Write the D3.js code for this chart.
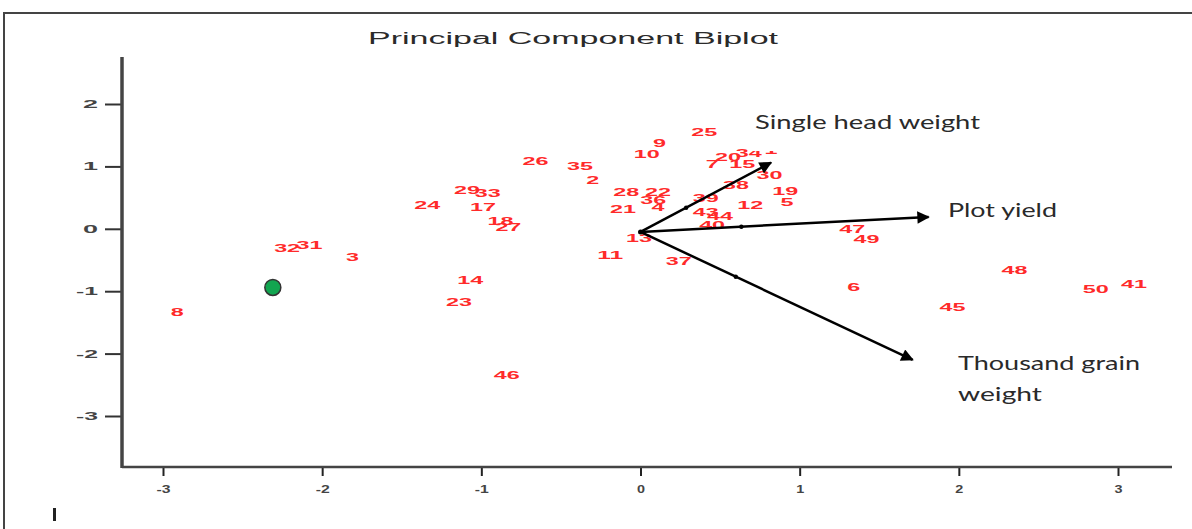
<!DOCTYPE html>
<html><head><meta charset="utf-8">
<script src="https://cdn.jsdelivr.net/npm/d3@7"></script>
<style>html,body{margin:0;padding:0;background:#fff;}svg{display:block;}</style>
</head><body>
<svg id="c" width="1192" height="529"></svg>
<script>
// ---- data ----
const obsLabels = ["25","9","10","26","35","2","7","20","34","1","15","30","38","19","5","12","39","28","22","36","21","4","43","44","40","13","11","37","29","33","24","17","18","27","14","23","46","32","31","3","8","47","49","48","6","50","41","45","42"];
const pc1 = [0.40,0.12,0.04,-0.66,-0.38,-0.30,0.45,0.55,0.68,0.82,0.64,0.81,0.60,0.91,0.92,0.69,0.41,-0.09,0.11,0.08,-0.11,0.11,0.41,0.50,0.45,-0.01,-0.19,0.24,-1.09,-0.96,-1.34,-0.99,-0.88,-0.83,-1.07,-1.14,-0.84,-2.22,-2.08,-1.81,-2.91,1.33,1.42,2.35,1.34,2.86,3.10,1.96,2.37];
const pc2 = [1.55,1.38,1.20,1.09,1.01,0.78,1.04,1.15,1.21,1.26,1.04,0.86,0.70,0.61,0.43,0.38,0.50,0.59,0.59,0.46,0.32,0.35,0.27,0.20,0.06,-0.14,-0.42,-0.51,0.62,0.58,0.38,0.35,0.13,0.03,-0.82,-1.17,-2.35,-0.30,-0.26,-0.45,-1.34,0.00,-0.16,-0.66,-0.94,-0.96,-0.88,-1.25,-1.90];
const highlight = {x: -2.31, y: -0.94};
const varNames = [["Single head weight"],["Plot yield"],["Thousand grain","weight"]];
const loadX = [0.82, 1.81, 1.71];
const loadY = [1.06, 0.19, -2.10];
const origin = [0, -0.05];
const xTicks = [-3,-2,-1,0,1,2,3];
const yTicks = [-3,-2,-1,0,1,2];
const title = "Principal Component Biplot";

// ---- drawing ----
const svg = d3.select("#c");
const x = d3.scaleLinear().domain([-3,3]).range([163,1118]);
const y = d3.scaleLinear().domain([-3,2]).range([416,104]);

// frame
svg.append("line").attr("x1",4).attr("x2",1192).attr("y1",13).attr("y2",13).attr("stroke","#444").attr("stroke-width",2);
svg.append("line").attr("x1",4).attr("x2",4).attr("y1",12).attr("y2",529).attr("stroke","#444").attr("stroke-width",2);
svg.append("rect").attr("x",53).attr("y",508).attr("width",3).attr("height",13).attr("fill","#222");

// title
svg.append("text").attr("x",368).attr("y",44).attr("font-family","Liberation Sans, Arial").attr("font-size",16)
  .attr("fill","#2a2a2a").attr("textLength",410).attr("lengthAdjust","spacingAndGlyphs").text(title);

// axes
const xAxis = d3.axisBottom(x).tickValues(xTicks).tickSize(9).tickFormat(d3.format("d"));
const gx = svg.append("g").attr("transform","translate(0,467)").call(xAxis);
gx.select(".domain").remove();
gx.selectAll(".tick line").attr("stroke","#222").attr("stroke-width",2);
gx.selectAll(".tick text").attr("y",18).attr("font-family","Liberation Sans, Arial").attr("font-size",11).attr("font-weight","bold").attr("fill","#444")
  .attr("textLength",d=>d<0?14:8).attr("lengthAdjust","spacingAndGlyphs").text(d=>d<0?"-"+Math.abs(d):d);
svg.append("line").attr("x1",122).attr("x2",1172).attr("y1",467).attr("y2",467).attr("stroke","#444").attr("stroke-width",2.5);

const yAxis = d3.axisLeft(y).tickValues(yTicks).tickSize(17).tickFormat(d3.format("d"));
const gy = svg.append("g").attr("transform","translate(122,0)").call(yAxis);
gy.select(".domain").remove();
gy.selectAll(".tick line").attr("stroke","#333").attr("stroke-width",2);
gy.selectAll(".tick text").attr("x",-24).attr("font-family","Liberation Sans, Arial").attr("font-size",11).attr("font-weight","bold").attr("fill","#444")
  .attr("textLength",d=>d<0?22:15).attr("lengthAdjust","spacingAndGlyphs").text(d=>d<0?"-"+Math.abs(d):d);
svg.append("line").attr("x1",122).attr("x2",122).attr("y1",57).attr("y2",468).attr("stroke","#444").attr("stroke-width",3.5);

// observation labels
svg.append("g").selectAll("text").data(obsLabels).join("text")
  .attr("x",(d,i)=>x(pc1[i])).attr("y",(d,i)=>y(pc2[i]))
  .attr("text-anchor","middle").attr("dominant-baseline","central")
  .attr("font-family","Liberation Sans, Arial").attr("font-size",11).attr("font-weight","bold").attr("fill","#ff2a2a")
  .attr("textLength",d=>d.length*13).attr("lengthAdjust","spacingAndGlyphs").text(d=>d);

// highlight point
svg.append("circle").attr("cx",x(highlight.x)).attr("cy",y(highlight.y)).attr("r",8)
  .attr("fill","#12a550").attr("stroke","#333").attr("stroke-width",1.5);

// arrows
const defs = svg.append("defs");
defs.append("marker").attr("id","ah").attr("viewBox","0 0 10 10").attr("refX",9).attr("refY",5)
  .attr("markerWidth",6).attr("markerHeight",5).attr("markerUnits","strokeWidth").attr("orient","auto")
  .append("path").attr("d","M0,0 L10,5 L0,10 z").attr("fill","#000");
const ox = x(origin[0]), oy = y(origin[1]);
svg.append("g").selectAll("line").data(loadX).join("line")
  .attr("x1",ox).attr("y1",oy).attr("x2",(d,i)=>x(d)).attr("y2",(d,i)=>y(loadY[i]))
  .attr("stroke","#000").attr("stroke-width",2.5).attr("marker-end","url(#ah)");
svg.append("g").selectAll("circle").data(loadX).join("circle")
  .attr("cx",(d,i)=>ox+(x(d)-ox)*0.35).attr("cy",(d,i)=>oy+(y(loadY[i])-oy)*0.35).attr("r",2.2).attr("fill","#000");
svg.append("circle").attr("cx",ox).attr("cy",oy).attr("r",2.5).attr("fill","#000");

// variable labels with white boxes
const boxes = [[748,100,240,51],[940,195,110,30],[950,343,195,67]];
const labPos = [[[755,129,225]],[[948,217,109]],[[958,370,182],[958,401,84]]];
varNames.forEach((lines,i)=>{
  const b = boxes[i];
  svg.append("rect").attr("x",b[0]).attr("y",b[1]).attr("width",b[2]).attr("height",b[3]).attr("fill","#fff");
  lines.forEach((t,j)=>{
    const p = labPos[i][j];
    svg.append("text").attr("x",p[0]).attr("y",p[1]).attr("font-family","Lato, Open Sans, sans-serif").attr("font-size",20)
      .attr("fill","#2a2a2a").attr("textLength",p[2]).attr("lengthAdjust","spacingAndGlyphs").text(t);
  });
});
</script>
</body></html>
